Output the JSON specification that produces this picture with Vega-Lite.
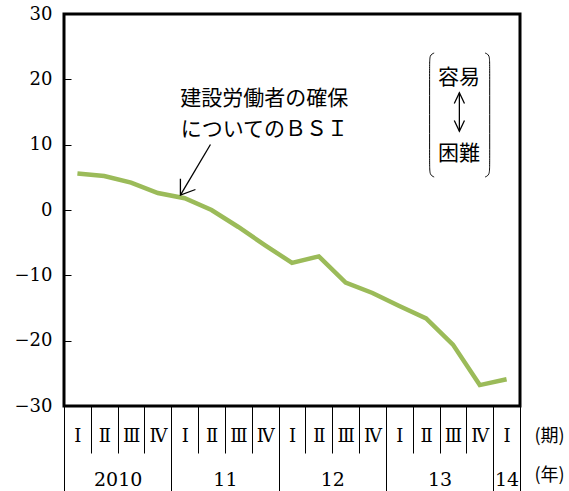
{
  "$schema": "https://vega.github.io/schema/vega-lite/v6.json",
  "width": 456,
  "height": 392,
  "autosize": {"type": "none"},
  "padding": {"left": 64, "top": 14, "right": 49, "bottom": 85},
  "background": "#ffffff",
  "config": {
    "view": {"stroke": "#000000", "strokeWidth": 3},
    "axis": {"grid": false, "domain": false, "labelColor": "#000000", "tickColor": "#000000", "titleColor": "#000000"}
  },
  "datasets": {
    "bsi": [
      {"t": 0.5, "v": 5.6}, {"t": 1.5, "v": 5.2}, {"t": 2.5, "v": 4.2}, {"t": 3.5, "v": 2.6},
      {"t": 4.5, "v": 1.8}, {"t": 5.5, "v": 0.0}, {"t": 6.5, "v": -2.6}, {"t": 7.5, "v": -5.4},
      {"t": 8.5, "v": -8.1}, {"t": 9.5, "v": -7.1}, {"t": 10.5, "v": -11.1}, {"t": 11.5, "v": -12.7},
      {"t": 12.5, "v": -14.7}, {"t": 13.5, "v": -16.6}, {"t": 14.5, "v": -20.6}, {"t": 15.5, "v": -26.8},
      {"t": 16.5, "v": -25.9}
    ],
    "brackets": [
      {"g": "lb", "o": 1, "t": 13.80, "v": 24.03}, {"g": "lb", "o": 2, "t": 13.63, "v": 23.73},
      {"g": "lb", "o": 3, "t": 13.63, "v": 22.27}, {"g": "lb", "o": 4, "t": 13.63, "v": 6.96},
      {"g": "lb", "o": 5, "t": 13.63, "v": 5.36}, {"g": "lb", "o": 6, "t": 13.80, "v": 5.05},
      {"g": "rb", "o": 1, "t": 15.70, "v": 24.03}, {"g": "rb", "o": 2, "t": 15.87, "v": 23.73},
      {"g": "rb", "o": 3, "t": 15.87, "v": 22.27}, {"g": "rb", "o": 4, "t": 15.87, "v": 6.96},
      {"g": "rb", "o": 5, "t": 15.87, "v": 5.36}, {"g": "rb", "o": 6, "t": 15.70, "v": 5.05}
    ],
    "arrows": [
      {"g": "ptr", "o": 1, "t": 5.46, "v": 10.03}, {"g": "ptr", "o": 2, "t": 4.34, "v": 2.27},
      {"g": "ptrh", "o": 1, "t": 4.34, "v": 4.78}, {"g": "ptrh", "o": 2, "t": 4.34, "v": 2.27}, {"g": "ptrh", "o": 3, "t": 4.90, "v": 3.14},
      {"g": "dbl", "o": 1, "t": 14.74, "v": 17.94}, {"g": "dbl", "o": 2, "t": 14.74, "v": 12.06},
      {"g": "dblt", "o": 1, "t": 14.55, "v": 16.30}, {"g": "dblt", "o": 2, "t": 14.74, "v": 17.94}, {"g": "dblt", "o": 3, "t": 14.93, "v": 16.30},
      {"g": "dblb", "o": 1, "t": 14.55, "v": 13.70}, {"g": "dblb", "o": 2, "t": 14.74, "v": 12.06}, {"g": "dblb", "o": 3, "t": 14.93, "v": 13.70}
    ],
    "texts": [
      {"t": 7.47, "v": 17.0, "label": "建設労働者の確保"},
      {"t": 7.47, "v": 12.3, "label": "についてのＢＳＩ"},
      {"t": 14.73, "v": 20.2, "label": "容易"},
      {"t": 14.73, "v": 8.5, "label": "困難"}
    ]
  },
  "resolve": {"axis": {"x": "independent"}},
  "layer": [
    {
      "data": {"name": "bsi"},
      "mark": {"type": "line", "color": "#9BBB59", "strokeWidth": 4.5},
      "encoding": {
        "x": {"field": "t", "type": "quantitative", "scale": {"domain": [0, 17], "nice": false, "zero": false},
          "axis": {"orient": "bottom", "values": [0.5, 1.5, 2.5, 3.5, 4.5, 5.5, 6.5, 7.5, 8.5, 9.5, 10.5, 11.5, 12.5, 13.5, 14.5, 15.5, 16.5],
            "labelExpr": "['Ⅰ','Ⅱ','Ⅲ','Ⅳ'][floor(datum.value) % 4]",
            "ticks": false, "labelPadding": 30, "labelBaseline": "middle", "labelFont": "DejaVu Serif", "labelFontSize": 18,
            "labelFlush": false, "labelOverlap": false, "labelBound": false,
            "title": "(期)", "titleX": 485, "titleY": 30, "titleAlign": "center", "titleBaseline": "middle", "titleFont": "Noto Sans CJK JP", "titleFontSize": 18, "titleFontWeight": "normal"}},
        "y": {"field": "v", "type": "quantitative", "scale": {"domain": [-30, 30], "nice": false, "zero": false},
          "axis": {"title": null, "values": [-30, -20, -10, 0, 10, 20, 30], "tickSize": -7, "tickWidth": 1, "labelPadding": 19, "labelFont": "DejaVu Serif", "labelFontSize": 18, "labelBaseline": "middle"}}
      }
    },
    {
      "data": {"name": "brackets"},
      "mark": {"type": "line", "color": "#000000", "strokeWidth": 1, "interpolate": "basis"},
      "encoding": {
        "x": {"field": "t", "type": "quantitative",
          "axis": {"orient": "bottom", "values": [0, 1, 2, 3, 4, 5, 6, 7, 8, 9, 10, 11, 12, 13, 14, 15, 16, 17], "labels": false, "ticks": true, "tickSize": 47, "tickWidth": 1, "title": null}},
        "y": {"field": "v", "type": "quantitative",
          "axis": {"title": null, "values": [-30, -20, -10, 0, 10, 20, 30], "tickSize": -7, "tickWidth": 1, "labelPadding": 19, "labelFont": "DejaVu Serif", "labelFontSize": 18, "labelBaseline": "middle"}},
        "detail": {"field": "g"},
        "order": {"field": "o"}
      }
    },
    {
      "data": {"name": "arrows"},
      "mark": {"type": "line", "color": "#000000", "strokeWidth": 1.3},
      "encoding": {
        "x": {"field": "t", "type": "quantitative",
          "axis": {"orient": "bottom", "values": [0, 4, 8, 12, 16, 17], "labels": false, "ticks": true, "tickSize": 85, "tickWidth": 1, "title": null}},
        "y": {"field": "v", "type": "quantitative",
          "axis": {"title": null, "values": [-30, -20, -10, 0, 10, 20, 30], "tickSize": -7, "tickWidth": 1, "labelPadding": 19, "labelFont": "DejaVu Serif", "labelFontSize": 18, "labelBaseline": "middle"}},
        "detail": {"field": "g"},
        "order": {"field": "o"}
      }
    },
    {
      "data": {"name": "texts"},
      "mark": {"type": "text", "font": "Noto Sans CJK JP", "fontSize": 21, "color": "#000000", "align": "center", "baseline": "middle"},
      "encoding": {
        "x": {"field": "t", "type": "quantitative",
          "axis": {"orient": "bottom", "values": [2, 6, 10, 14, 16.5],
            "labelExpr": "datum.value == 2 ? '2010' : datum.value == 6 ? '11' : datum.value == 10 ? '12' : datum.value == 14 ? '13' : '14'",
            "ticks": false, "labelPadding": 73, "labelBaseline": "middle", "labelFont": "DejaVu Serif", "labelFontSize": 19,
            "labelFlush": false, "labelOverlap": false, "labelBound": false,
            "title": "(年)", "titleX": 485, "titleY": 69, "titleAlign": "center", "titleBaseline": "middle", "titleFont": "Noto Sans CJK JP", "titleFontSize": 18, "titleFontWeight": "normal"}},
        "y": {"field": "v", "type": "quantitative",
          "axis": {"title": null, "values": [-30, -20, -10, 0, 10, 20, 30], "tickSize": -7, "tickWidth": 1, "labelPadding": 19, "labelFont": "DejaVu Serif", "labelFontSize": 18, "labelBaseline": "middle"}},
        "text": {"field": "label"}
      }
    },
    {
      "mark": {"type": "rule", "color": "#000000", "strokeWidth": 1},
      "encoding": {
        "x": {"datum": 0.5, "type": "quantitative", "axis": null},
        "x2": {"datum": 16.5},
        "y": {"datum": 0, "type": "quantitative",
          "axis": {"title": null, "values": [-30, -20, -10, 0, 10, 20, 30], "tickSize": -7, "tickWidth": 1, "labelPadding": 19, "labelFont": "DejaVu Serif", "labelFontSize": 18, "labelBaseline": "middle"}}
      }
    }
  ]
}
